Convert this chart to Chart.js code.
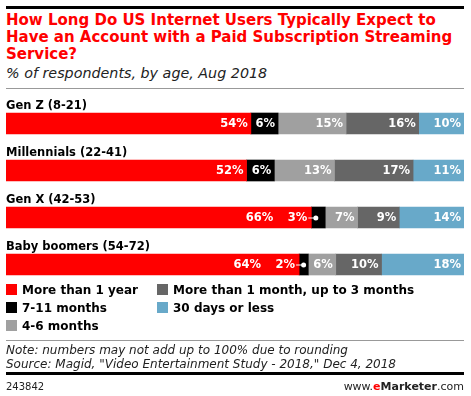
<!DOCTYPE html>
<html>
<head>
<meta charset="utf-8">
<script src="https://cdn.jsdelivr.net/npm/chart.js@4"></script>
<style>
  body { margin: 0; width: 471px; height: 396px; position: relative; background: #fff; overflow: hidden;
         font-family: "DejaVu Sans", Verdana, sans-serif; }
  .abs { position: absolute; }
  .rule { position: absolute; left: 6px; width: 458px; }
  #title { left: 6px; top: 12px; width: 462px; color: #ff0000; font-weight: bold; font-size: 15px; line-height: 17px; }
  #subtitle { left: 6px; top: 64px; font-style: italic; font-size: 14.3px; line-height: 18px; color: #222; }
  #chartBox { left: 0; top: 90px; width: 471px; height: 206px; }
  .leg { position: absolute; font-weight: bold; font-size: 12px; line-height: 14px; color: #000; }
  .leg i { position: absolute; left: 0; top: 1px; width: 11px; height: 11px; }
  .leg span { position: absolute; left: 16px; top: 0; white-space: nowrap; }
  #note { left: 6px; top: 343px; font-style: italic; font-size: 12px; line-height: 14px; color: #222; white-space: nowrap; }
  #code { left: 6px; top: 381px; font-size: 10px; color: #222; }
  #brand { right: 7px; top: 380px; font-size: 11px; color: #222; }
</style>
</head>
<body>
<div class="rule" style="top:6px;height:3px;background:#000"></div>
<div id="title" class="abs">How Long Do US Internet Users Typically Expect to Have an Account with a Paid Subscription Streaming Service?</div>
<div id="subtitle" class="abs">% of respondents, by age, Aug 2018</div>
<div class="rule" style="top:88px;height:1px;background:#999"></div>
<div id="chartBox" class="abs"><canvas id="chart"></canvas></div>
<div id="legend"></div>
<div class="rule" style="top:340px;height:1px;background:#999"></div>
<div id="note" class="abs">Note: numbers may not add up to 100% due to rounding<br>Source: Magid, "Video Entertainment Study - 2018," Dec 4, 2018</div>
<div class="rule" style="top:372px;height:3px;background:#000"></div>
<div id="code" class="abs">243842</div>
<div id="brand" class="abs">www.<b style="color:#ff0000">e</b><b>Marketer</b>.com</div>
<script>
const groups = ['Gen Z (8-21)', 'Millennials (22-41)', 'Gen X (42-53)', 'Baby boomers (54-72)'];
const seriesNames = ['More than 1 year', '7-11 months', '4-6 months', 'More than 1 month, up to 3 months', '30 days or less'];
const moreThanYear = [54, 52, 66, 64];
const sevenToEleven = [6, 6, 3, 2];
const fourToSix = [15, 13, 7, 6];
const oneToThree = [16, 17, 9, 10];
const thirtyDays = [10, 11, 14, 18];
const colors = ['#ff0000', '#000000', '#a0a0a0', '#666666', '#68a9c9'];

const series = [moreThanYear, sevenToEleven, fourToSix, oneToThree, thirtyDays];
// rows are stretched to full width, like the original
const totals = groups.map((g, i) => series.reduce((s, arr) => s + arr[i], 0));

// legend, filled column by column (3 rows)
const legendPos = [[6, 283], [6, 301], [6, 319], [157, 283], [157, 301]];
const legend = document.getElementById('legend');
seriesNames.forEach((name, k) => {
  const d = document.createElement('div');
  d.className = 'leg';
  d.style.left = legendPos[k][0] + 'px';
  d.style.top = legendPos[k][1] + 'px';
  d.innerHTML = '<i style="background:' + colors[k] + '"></i><span>' + name + '</span>';
  legend.appendChild(d);
});

const labelPlugin = {
  id: 'barLabels',
  afterDatasetsDraw(chart) {
    const ctx = chart.ctx;
    ctx.save();
    // group names above each bar
    ctx.font = 'bold 11.5px "DejaVu Sans"';
    ctx.fillStyle = '#000';
    ctx.textAlign = 'left';
    ctx.textBaseline = 'alphabetic';
    chart.getDatasetMeta(0).data.forEach((bar, i) => {
      ctx.fillText(groups[i], chart.chartArea.left, bar.y - bar.height / 2 - 4);
    });
    // value labels
    ctx.font = 'bold 11.5px "DejaVu Sans"';
    ctx.textBaseline = 'middle';
    ctx.textAlign = 'right';
    ctx.fillStyle = '#fff';
    ctx.strokeStyle = '#fff';
    series.forEach((arr, di) => {
      const meta = chart.getDatasetMeta(di);
      meta.data.forEach((bar, i) => {
        const v = arr[i];
        const txt = v + '%';
        const next = series[di + 1];
        if (v < 5) {
          // thin segment: label sits to the left with a pointer
          ctx.fillText(txt, bar.base - 4, bar.y + 1);
          ctx.lineWidth = 1;
          ctx.beginPath();
          ctx.moveTo(bar.base - 3, bar.y + 0.5);
          ctx.lineTo(bar.base + 4, bar.y + 0.5);
          ctx.stroke();
          ctx.beginPath();
          ctx.arc(bar.base + 4.5, bar.y + 0.5, 2.5, 0, Math.PI * 2);
          ctx.fill();
        } else if (next && next[i] < 5) {
          ctx.fillText(txt, bar.x - 38, bar.y + 1);
        } else {
          ctx.fillText(txt, bar.x - 3, bar.y + 1);
        }
      });
    });
    ctx.restore();
  }
};

new Chart(document.getElementById('chart'), {
  type: 'bar',
  data: {
    labels: groups,
    datasets: series.map((arr, di) => ({
      label: seriesNames[di],
      data: arr.map((v, i) => v / totals[i] * 100),
      backgroundColor: colors[di],
      borderWidth: 0,
      barThickness: 21
    }))
  },
  options: {
    indexAxis: 'y',
    responsive: true,
    maintainAspectRatio: false,
    animation: false,
    layout: { padding: { left: 6, right: 7, top: 10, bottom: 8 } },
    plugins: { legend: { display: false }, tooltip: { enabled: false } },
    scales: {
      x: { stacked: true, display: false, min: 0, max: 100 },
      y: { stacked: true, display: false }
    }
  },
  plugins: [labelPlugin]
});
</script>
</body>
</html>
